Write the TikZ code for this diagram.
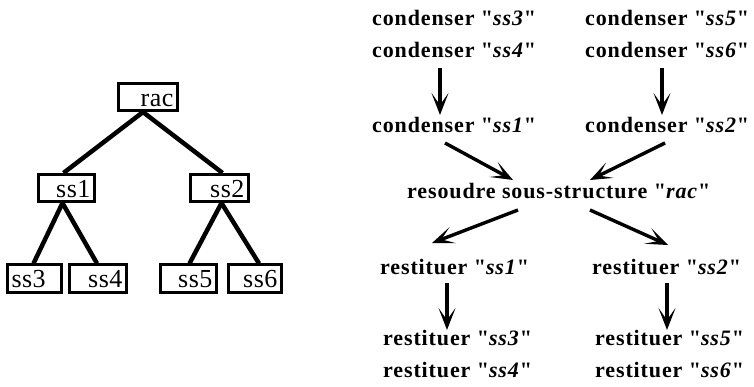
\documentclass[tikz,border=0pt]{standalone}
\usepackage{fontspec}
\setmainfont{Liberation Serif}
\newfontfamily\flowfam[LetterSpace=4,Ligatures=TeXOff]{Liberation Serif}
\newfontfamily\treefam[LetterSpace=2]{Liberation Serif}
\usetikzlibrary{arrows.meta}
\begin{document}
\begin{tikzpicture}[x=1pt,y=-1pt,
  tbox/.style={draw, line width=2.6pt, inner xsep=4pt, inner ysep=0pt,
    minimum height=27.5pt, text height=18pt, text depth=0pt,
    font={\treefam\fontsize{26}{30}\selectfont}},
  tline/.style={line width=4.5pt},
  flow/.style={anchor=base west, inner sep=0pt,
    font={\flowfam\bfseries\fontsize{22}{26}\selectfont}},
  arr/.style={line width=3.4pt, -{Stealth[length=22pt,width=17pt,inset=12pt]}}]
\useasboundingbox (0,0) rectangle (754,386);

% tree of sub-structures
\node[tbox, text width=51pt, align=right] (rac) at (148,97)    {rac};
\node[tbox, text width=48pt, align=right] (ss1) at (66.5,188)  {ss1};
\node[tbox, text width=50pt, align=right] (ss2) at (219.5,188) {ss2};
\node[tbox, text width=46pt, align=left]  (ss3) at (34.5,278.5) {ss3};
\node[tbox, text width=49pt, align=right] (ss4) at (98,278.5)   {ss4};
\node[tbox, text width=48pt, align=right] (ss5) at (188.5,278.5) {ss5};
\node[tbox, text width=45pt, align=right] (ss6) at (255,278.5)  {ss6};

\draw[tline] ([xshift=-5pt]rac.south) -- ([xshift=-3pt]ss1.north);
\draw[tline] ([xshift=-5pt]rac.south) -- ([xshift=3pt]ss2.north);
\draw[tline] ([xshift=-4pt]ss1.south) -- ([xshift=-1pt]ss3.north);
\draw[tline] ([xshift=-4pt]ss1.south) -- ([xshift=-1pt]ss4.north);
\draw[tline] ([xshift=2pt]ss2.south) -- ([xshift=1pt]ss5.north);
\draw[tline] ([xshift=2pt]ss2.south) -- ([xshift=4pt]ss6.north);

% condensation and restitution steps
\node[flow] (c3) at (372,25)  {condenser "\textit{ss3}"};
\node[flow] (c5) at (585,25)  {condenser "\textit{ss5}"};
\node[flow] (c4) at (372,57)  {condenser "\textit{ss4}"};
\node[flow] (c6) at (585,57)  {condenser "\textit{ss6}"};
\node[flow] (c1) at (372,132) {condenser "\textit{ss1}"};
\node[flow] (c2) at (585,132) {condenser "\textit{ss2}"};
\node[flow] (res) at (407,198) {resoudre sous-structure "\textit{rac}"};
\node[flow] (r1) at (380,274) {restituer "\textit{ss1}"};
\node[flow] (r2) at (592,274) {restituer "\textit{ss2}"};
\node[flow] (r3) at (383,345) {restituer "\textit{ss3}"};
\node[flow] (r5) at (595,345) {restituer "\textit{ss5}"};
\node[flow] (r4) at (383,377) {restituer "\textit{ss4}"};
\node[flow] (r6) at (595,377) {restituer "\textit{ss6}"};

\draw[arr] ([xshift=68pt,yshift=-11pt]c4.base west) -- ([xshift=68pt,yshift=17pt]c1.base west);
\draw[arr] ([xshift=77pt,yshift=-11pt]c6.base west) -- ([xshift=77pt,yshift=17pt]c2.base west);
\draw[arr] ([xshift=73pt,yshift=-11pt]c1.base west) -- ([xshift=106pt,yshift=18pt]res.base west);
\draw[arr] ([xshift=80pt,yshift=-11pt]c2.base west) -- ([xshift=183pt,yshift=18pt]res.base west);
\draw[arr] ([xshift=111pt,yshift=-12pt]res.base west) -- ([xshift=52pt,yshift=31pt]r1.base west);
\draw[arr] ([xshift=183pt,yshift=-12pt]res.base west) -- ([xshift=76pt,yshift=29pt]r2.base west);
\draw[arr] ([xshift=67pt,yshift=-9pt]r1.base west) -- ([xshift=64pt,yshift=15pt]r3.base west);
\draw[arr] ([xshift=75pt,yshift=-9pt]r2.base west) -- ([xshift=72pt,yshift=15pt]r5.base west);
\end{tikzpicture}
\end{document}
